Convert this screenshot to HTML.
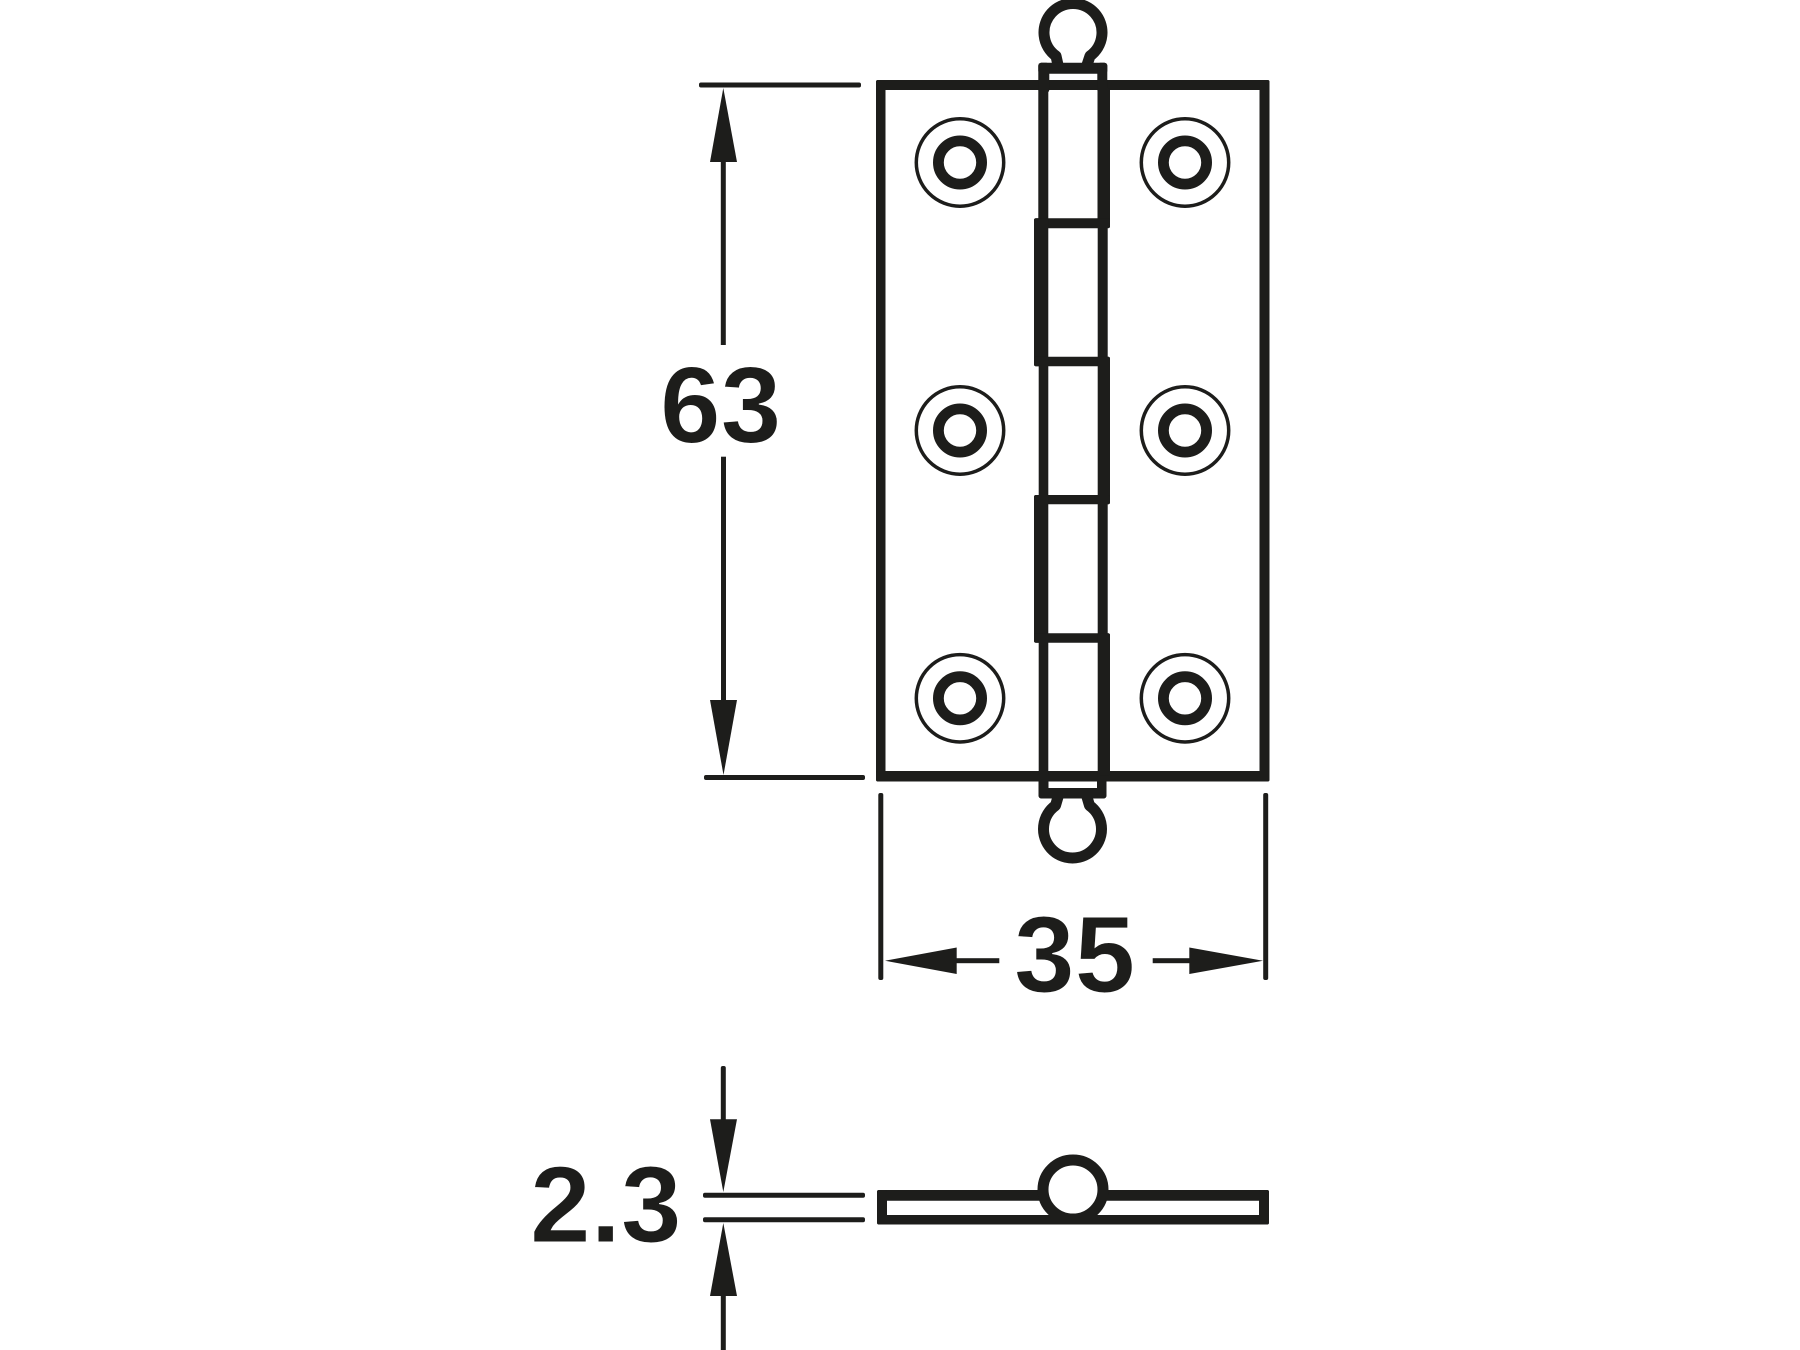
<!DOCTYPE html>
<html>
<head>
<meta charset="utf-8">
<style>
html,body{margin:0;padding:0;background:#fff;width:1800px;height:1350px;overflow:hidden}
svg{display:block}
text{font-family:"Liberation Sans",Arial,sans-serif;font-weight:700;font-size:109px;fill:#1d1d1b;stroke:#fff;stroke-width:1px}
</style>
</head>
<body>
<svg width="1800" height="1350" viewBox="0 0 1800 1350" xmlns="http://www.w3.org/2000/svg">
<rect width="1800" height="1350" fill="#fff"/>
<!-- pin rings -->
<g fill="none" stroke="#1d1d1b" stroke-width="11" stroke-linejoin="round">
  <path d="M1058 65 L1056 56 A29 29 0 1 1 1090 56 L1087 65"/>
  <path d="M1058 797 L1055.5 805.5 A29 29 0 1 0 1089.5 805.5 L1087 797"/>
</g>
<g fill="#1d1d1b" stroke="none">
  <!-- plate -->
  <rect x="876" y="80" width="9.5" height="701.5" rx="2"/>
  <rect x="1259.5" y="80" width="10" height="701.5" rx="2"/>
  <rect x="876" y="80" width="393.5" height="10" rx="2"/>
  <rect x="876" y="771" width="393.5" height="10.5" rx="2"/>
</g>
<g fill="#fff" stroke="none">
  <rect x="1048.3" y="90" width="49.4" height="681"/>
  <rect x="1049.3" y="73.7" width="48" height="6.3"/>
  <rect x="1048.5" y="781.5" width="48.5" height="6.5"/>
</g>
<g fill="#1d1d1b" stroke="none">
  <!-- top cap -->
  <rect x="1038.3" y="62.7" width="69" height="11" rx="3"/>
  <rect x="1038.3" y="62.7" width="11" height="30" rx="3"/>
  <rect x="1097.3" y="62.7" width="10" height="30" rx="3"/>
  <!-- bottom cap -->
  <rect x="1038.5" y="788" width="68" height="10.5" rx="3"/>
  <rect x="1038.5" y="771" width="10" height="27.5" rx="3"/>
  <rect x="1097" y="771" width="9.5" height="27.5" rx="3"/>
  <!-- knuckle 1 -->
  <rect x="1038.3" y="88" width="10" height="132"/>
  <rect x="1097.5" y="88" width="12.5" height="140" rx="2"/>
  <!-- divider 1 -->
  <rect x="1034" y="218.3" width="76" height="10" rx="2"/>
  <!-- knuckle 2 -->
  <rect x="1034" y="218.3" width="14.3" height="148" rx="2"/>
  <rect x="1097.7" y="228" width="10" height="130"/>
  <!-- divider 2 -->
  <rect x="1034" y="356.7" width="76" height="9.5" rx="2"/>
  <!-- knuckle 3 -->
  <rect x="1038.7" y="364" width="9.6" height="134"/>
  <rect x="1097.7" y="356.7" width="12.3" height="147.6" rx="2"/>
  <!-- divider 3 -->
  <rect x="1034" y="495" width="76" height="9.3" rx="2"/>
  <!-- knuckle 4 -->
  <rect x="1034" y="495" width="14.3" height="147.7" rx="2"/>
  <rect x="1097.7" y="502" width="10" height="134"/>
  <!-- divider 4 -->
  <rect x="1034" y="633.3" width="76" height="9.4" rx="2"/>
  <!-- knuckle 5 -->
  <rect x="1038.7" y="640" width="9.6" height="135"/>
  <rect x="1097.7" y="633.3" width="12.3" height="142" rx="2"/>
</g>
<!-- screw holes -->
<g fill="none" stroke="#1d1d1b">
  <g stroke-width="3.5"><circle cx="960" cy="162.5" r="43.7"/><circle cx="1185" cy="162.5" r="43.7"/>
  <circle cx="960" cy="430.5" r="43.7"/><circle cx="1185" cy="430.5" r="43.7"/>
  <circle cx="960" cy="698.3" r="43.7"/><circle cx="1185" cy="698.3" r="43.7"/></g>
  <g stroke-width="10.8"><circle cx="960" cy="162.5" r="21.6"/><circle cx="1185" cy="162.5" r="21.6"/>
  <circle cx="960" cy="430.5" r="21.6"/><circle cx="1185" cy="430.5" r="21.6"/>
  <circle cx="960" cy="698.3" r="21.6"/><circle cx="1185" cy="698.3" r="21.6"/></g>
</g>
<!-- dimensions -->
<g fill="#1d1d1b" stroke="none">
  <rect x="699" y="82.5" width="162" height="5" rx="2"/>
  <rect x="704" y="775" width="161" height="5" rx="2"/>
  <rect x="720.8" y="150" width="5" height="195"/>
  <rect x="721" y="456.7" width="5" height="250"/>
  <polygon points="723.3,88 737,162 710,162"/>
  <polygon points="723.5,775 710,700 737,700"/>
  <rect x="878.3" y="793" width="5" height="187" rx="2"/>
  <rect x="1263.2" y="793" width="5" height="187" rx="2"/>
  <rect x="945" y="958.2" width="54.3" height="5"/>
  <rect x="1152.7" y="958.2" width="45" height="5"/>
  <polygon points="885,960.7 956.7,947.5 956.7,974"/>
  <polygon points="1263,960.7 1189.3,947.5 1189.3,974"/>
  <rect x="720.8" y="1066" width="5" height="60" rx="2"/>
  <rect x="720.8" y="1290" width="5" height="60"/>
  <polygon points="723.3,1192 737,1119.3 710,1119.3"/>
  <polygon points="723.3,1223 737,1296 710,1296"/>
  <rect x="703" y="1192.8" width="162" height="5" rx="2"/>
  <rect x="703" y="1217.2" width="162" height="5" rx="2"/>
  <!-- side view -->
  <rect x="877" y="1190" width="392" height="10.7" rx="2"/>
  <rect x="877" y="1215" width="392" height="9.5" rx="2"/>
  <rect x="877" y="1190" width="10" height="34.5" rx="2"/>
  <rect x="1259" y="1190" width="10" height="34.5" rx="2"/>
</g>
<ellipse cx="1073" cy="1189.5" rx="30" ry="29.5" fill="#fff" stroke="#1d1d1b" stroke-width="11"/>
<rect x="1040" y="1215" width="66" height="9.5" fill="#1d1d1b"/>
<!-- labels -->
<text x="660" y="442.5">63</text>
<text x="1014" y="992">35</text>
<text x="530" y="1242">2.3</text>
</svg>
</body>
</html>
